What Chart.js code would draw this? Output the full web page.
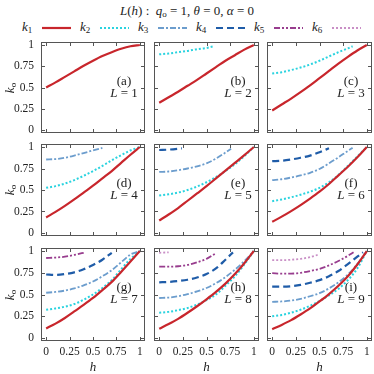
<!DOCTYPE html>
<html>
<head>
<meta charset="utf-8">
<script src="https://cdn.jsdelivr.net/npm/chart.js@4.4.1/dist/chart.umd.min.js"></script>
<style>
  body{margin:0;background:#fff;width:374px;height:374px;position:relative;overflow:hidden;
       font-family:"Liberation Serif",serif;color:#222}
  .abs{position:absolute}
  #title{left:0;width:374px;top:3px;text-align:center;font-size:13px;line-height:16px}
  sub{font-size:9px;vertical-align:-2px;line-height:0}
  .lg{font-size:13px;line-height:16px;top:19px}
  .ko{width:30px;height:16px;line-height:16px;text-align:center;font-size:13px;transform:rotate(-90deg)}
  .hx{width:20px;text-align:center;font-size:13px;line-height:16px;top:359px}
  canvas{position:absolute;left:0;top:0}
</style>
</head>
<body>
<div id="title" class="abs"><i>L</i>(<i>h</i>) :&nbsp; <i>q</i><sub>o</sub> = 1, <i>θ</i> = 0, <i>α</i> = 0</div>
<div id="root"></div>
<script>
// series / panels
const SERIES = ['1','2','3','4','5','6'];
const L_VALUES = [1,2,3,4,5,6,7,8,9];
const TAGS = ['(a)','(b)','(c)','(d)','(e)','(f)','(g)','(h)','(i)'];
const TICKS = [0,0.25,0.5,0.75,1];

// each panel: list of curves k1..kn, each curve a list of [h, k_o]
const L1 = [
  [[0,.5],[.1,.56],[.2,.625],[.3,.69],[.4,.755],[.5,.815],[.6,.87],[.7,.915],[.8,.955],[.9,.985],[1,1]]
];
const L2 = [
  [[0,.32],[.1,.385],[.2,.45],[.3,.52],[.4,.59],[.5,.665],[.6,.74],[.7,.815],[.8,.88],[.9,.945],[1,1]],
  [[0,.89],[.1,.9],[.2,.915],[.3,.93],[.4,.95],[.5,.965],[.58,.985]]
];
const L3 = [
  [[0,.23],[.1,.3],[.2,.37],[.3,.445],[.4,.525],[.5,.61],[.6,.695],[.7,.78],[.8,.86],[.9,.935],[1,1]],
  [[0,.665],[.1,.68],[.2,.705],[.3,.735],[.4,.77],[.5,.815],[.6,.865],[.7,.915],[.8,.96],[.85,.985]]
];
const L4 = [
  [[0,.18],[.1,.245],[.2,.315],[.3,.39],[.4,.47],[.5,.55],[.6,.635],[.7,.72],[.8,.815],[.9,.91],[1,1]],
  [[0,.525],[.1,.545],[.2,.575],[.3,.615],[.4,.665],[.5,.72],[.6,.78],[.7,.845],[.8,.905],[.9,.96],[1,1]],
  [[0,.855],[.1,.86],[.2,.875],[.3,.9],[.4,.93],[.5,.96],[.6,.99]]
];
const L5 = [
  [[0,.145],[.1,.215],[.2,.29],[.3,.375],[.4,.46],[.5,.545],[.6,.635],[.7,.725],[.8,.815],[.9,.905],[1,1]],
  [[0,.435],[.1,.45],[.2,.47],[.3,.5],[.4,.54],[.5,.59],[.6,.65],[.7,.72],[.8,.8],[.9,.895],[1,1]],
  [[0,.71],[.1,.715],[.2,.73],[.3,.75],[.4,.775],[.5,.81],[.6,.865],[.7,.935],[.76,.98]],
  [[0,.965],[.1,.97],[.2,.98],[.24,.985]]
];
const L6 = [
  [[0,.13],[.1,.19],[.2,.255],[.3,.325],[.4,.4],[.5,.48],[.6,.57],[.7,.67],[.8,.77],[.9,.88],[1,1]],
  [[0,.37],[.1,.39],[.2,.415],[.3,.445],[.4,.48],[.5,.525],[.6,.59],[.7,.675],[.8,.78],[.9,.89],[1,1]],
  [[0,.615],[.1,.625],[.2,.645],[.3,.67],[.4,.7],[.5,.745],[.6,.81],[.7,.88],[.8,.955],[.85,.99]],
  [[0,.835],[.1,.84],[.2,.855],[.3,.875],[.4,.9],[.5,.94],[.6,.985]]
];
const L7 = [
  [[0,.11],[.1,.165],[.2,.23],[.3,.305],[.4,.38],[.5,.46],[.6,.55],[.7,.645],[.8,.76],[.9,.88],[1,1]],
  [[0,.325],[.1,.34],[.2,.36],[.3,.39],[.4,.44],[.5,.5],[.6,.575],[.7,.665],[.8,.79],[.9,.91],[1,1]],
  [[0,.52],[.1,.53],[.2,.545],[.3,.57],[.4,.605],[.5,.65],[.6,.71],[.7,.78],[.8,.87],[.9,.96],[1,1]],
  [[0,.73],[.1,.725],[.2,.735],[.3,.755],[.4,.79],[.5,.84],[.6,.9],[.7,.98]],
  [[0,.92],[.1,.925],[.2,.935],[.3,.955],[.42,.985]]
];
const L8 = [
  [[0,.105],[.1,.16],[.2,.22],[.3,.29],[.4,.365],[.5,.445],[.6,.53],[.7,.625],[.8,.735],[.9,.86],[1,1]],
  [[0,.29],[.1,.3],[.2,.32],[.3,.345],[.4,.385],[.5,.435],[.6,.5],[.7,.6],[.8,.71],[.9,.845],[1,1]],
  [[0,.46],[.1,.465],[.2,.48],[.3,.505],[.4,.535],[.5,.575],[.6,.63],[.7,.7],[.8,.785],[.9,.885],[1,1]],
  [[0,.64],[.1,.645],[.2,.655],[.3,.67],[.4,.695],[.5,.735],[.6,.8],[.7,.9],[.78,.985]],
  [[0,.82],[.1,.82],[.2,.825],[.3,.84],[.4,.87],[.5,.91],[.6,.975]],
  [[0,.98],[.1,.985]]
];
const L9 = [
  [[0,.1],[.1,.15],[.2,.205],[.3,.27],[.4,.34],[.5,.42],[.6,.505],[.7,.6],[.8,.71],[.9,.845],[1,1]],
  [[0,.25],[.1,.265],[.2,.29],[.3,.325],[.4,.37],[.5,.425],[.6,.49],[.7,.565],[.8,.665],[.9,.8],[1,1]],
  [[0,.415],[.1,.42],[.2,.43],[.3,.45],[.4,.48],[.5,.515],[.6,.57],[.7,.64],[.8,.73],[.9,.85],[1,1]],
  [[0,.59],[.1,.59],[.2,.595],[.3,.61],[.4,.635],[.5,.665],[.6,.71],[.7,.77],[.8,.85],[.9,.935],[.96,.985]],
  [[0,.745],[.1,.74],[.2,.74],[.3,.75],[.4,.77],[.5,.795],[.6,.835],[.7,.885],[.8,.945],[.86,.985]],
  [[0,.895],[.1,.895],[.2,.9],[.3,.91],[.4,.93],[.48,.955]]
];
const PANELS = [L1,L2,L3,L4,L5,L6,L7,L8,L9];

// styles
const COLORS = ['#c8262c','#2ad3df','#6c9dcd','#1f5ca8','#983d8e','#c98fc6'];
const DASHES = [[],[2,2],[6,2,2,2],[7,4],[6,2,2,2,2,2],[2,2]];
const WIDTHS = [2.2,2,1.8,2.2,1.8,1.8];

// frame boxes (left,right) / (top,bottom)
const COLS = [[41,145],[154,259],[267,372]];
const ROWS = [[42,133],[144,236],[248,341]];
const FONT = '"Liberation Serif", serif';
const SIZE = 374;

const root = document.getElementById('root');

// legend
SERIES.forEach((s,i)=>{
  const lab = document.createElement('div');
  lab.className = 'abs lg';
  lab.style.left = (22 + 58*i) + 'px';
  lab.innerHTML = '<i>k</i><sub>' + s + '</sub>';
  root.appendChild(lab);
  const svg = document.createElementNS('http://www.w3.org/2000/svg','svg');
  svg.setAttribute('width', 30); svg.setAttribute('height', 6);
  svg.setAttribute('class','abs');
  svg.style.left = (42 + 58*i) + 'px'; svg.style.top = '25px';
  const ln = document.createElementNS('http://www.w3.org/2000/svg','line');
  ln.setAttribute('x1',0); ln.setAttribute('x2',29); ln.setAttribute('y1',3); ln.setAttribute('y2',3);
  ln.setAttribute('stroke',COLORS[i]); ln.setAttribute('stroke-width',WIDTHS[i]);
  if (DASHES[i].length) ln.setAttribute('stroke-dasharray',DASHES[i].join(' '));
  svg.appendChild(ln);
  root.appendChild(svg);
});

// frame, inward ticks and panel tag
const framePlugin = {
  id: 'frame',
  afterDraw(chart, args, opts){
    const {ctx, chartArea:a, scales:{x,y}} = chart;
    ctx.save();
    ctx.strokeStyle = '#555'; ctx.lineWidth = 1;
    ctx.strokeRect(a.left+0.5, a.top+0.5, a.right-a.left-1, a.bottom-a.top-1);
    ctx.beginPath();
    TICKS.forEach(v=>{
      const px = Math.round(x.getPixelForValue(v)) + 0.5;
      ctx.moveTo(px, a.bottom); ctx.lineTo(px, a.bottom-4);
      ctx.moveTo(px, a.top); ctx.lineTo(px, a.top+4);
      const py = Math.round(y.getPixelForValue(v)) + 0.5;
      ctx.moveTo(a.left, py); ctx.lineTo(a.left+4, py);
      ctx.moveTo(a.right, py); ctx.lineTo(a.right-4, py);
    });
    ctx.stroke();
    const cx = a.right - 21;
    ctx.fillStyle = '#222'; ctx.textBaseline = 'middle'; ctx.textAlign = 'center';
    ctx.font = '13px ' + FONT;
    ctx.fillText(opts.tag, cx, a.top + 40);
    ctx.font = 'italic 13px ' + FONT;
    const wL = ctx.measureText('L').width;
    ctx.font = '13px ' + FONT;
    const rest = ' = ' + opts.L;
    const wR = ctx.measureText(rest).width;
    const x0 = cx - (wL + wR)/2;
    ctx.textAlign = 'left';
    ctx.font = 'italic 13px ' + FONT;
    ctx.fillText('L', x0, a.top + 52);
    ctx.font = '13px ' + FONT;
    ctx.fillText(rest, x0 + wL, a.top + 52);
    ctx.restore();
  }
};

function noPad(ax){ ax.paddingTop = 0; ax.paddingBottom = 0; ax.paddingLeft = 0; ax.paddingRight = 0; }

PANELS.forEach((curves, p)=>{
  const r = Math.floor(p/3), c = p % 3;
  const yW = c === 0 ? 30 : 0;
  const xH = r === 2 ? 20 : 0;
  const pad = {
    left: COLS[c][0] - yW,
    right: SIZE - COLS[c][1],
    top: ROWS[r][0],
    bottom: SIZE - ROWS[r][1] - xH
  };

  const cv = document.createElement('canvas');
  cv.width = SIZE; cv.height = SIZE;
  root.appendChild(cv);

  const datasets = curves.map((pts, i)=>({
    label: 'k' + SERIES[i],
    data: pts.map(([hx, k])=>({x: hx, y: k})),
    borderColor: COLORS[i],
    borderWidth: WIDTHS[i],
    borderDash: DASHES[i],
    borderCapStyle: 'butt',
    pointRadius: 0,
    cubicInterpolationMode: 'monotone',
    fill: false
  }));

  new Chart(cv, {
    type: 'line',
    data: { datasets },
    plugins: [framePlugin],
    options: {
      responsive: false,
      animation: false,
      events: [],
      layout: { padding: pad },
      plugins: { legend: {display:false}, tooltip: {enabled:false}, frame: { tag: TAGS[p], L: L_VALUES[p] } },
      scales: {
        x: {
          type: 'linear', min: -0.055, max: 1.055,
          grid: {display:false, drawTicks:false}, border: {display:false},
          afterBuildTicks(ax){ ax.ticks = TICKS.map(v=>({value:v})); },
          afterFit(ax){ ax.height = xH; noPad(ax); },
          ticks: { display: r === 2, padding: 4, color: '#222', font: {family: FONT, size: 11.5},
                   maxRotation: 0, autoSkip: false, callback: v => String(v) }
        },
        y: {
          type: 'linear', min: -0.035, max: 1.035,
          grid: {display:false, drawTicks:false}, border: {display:false},
          afterBuildTicks(ax){ ax.ticks = TICKS.map(v=>({value:v})); },
          afterFit(ax){ ax.width = yW; noPad(ax); },
          ticks: { display: c === 0, padding: 7, color: '#222', font: {family: FONT, size: 11.5},
                   autoSkip: false, callback: v => String(v) }
        }
      }
    }
  });
});

// axis titles
ROWS.forEach(([t,b])=>{
  const d = document.createElement('div');
  d.className = 'abs ko';
  d.style.left = (9.5 - 15) + 'px';
  d.style.top = ((t + b)/2 - 8) + 'px';
  d.innerHTML = '<i>k</i><sub>o</sub>';
  root.appendChild(d);
});
COLS.forEach(([l,rr])=>{
  const d = document.createElement('div');
  d.className = 'abs hx';
  d.style.left = ((l + rr)/2 - 10) + 'px';
  d.innerHTML = '<i>h</i>';
  root.appendChild(d);
});
</script>
</body>
</html>
